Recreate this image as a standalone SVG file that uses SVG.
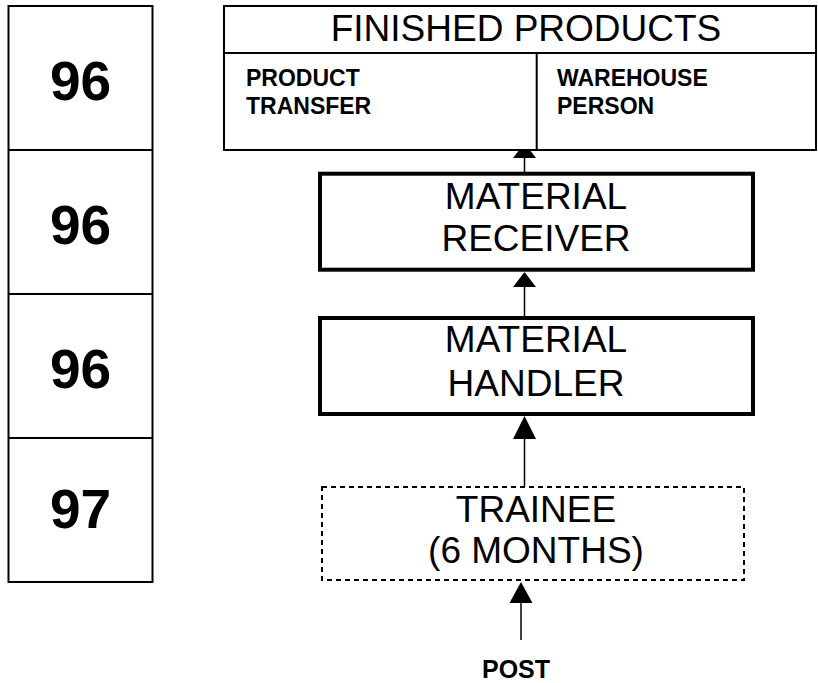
<svg xmlns="http://www.w3.org/2000/svg" width="818" height="683" viewBox="0 0 818 683">
<style>
.box{fill:#fff;stroke:#000;stroke-width:2}
.thick{fill:#fff;stroke:#000;stroke-width:4}
.dash{fill:#fff;stroke:#000;stroke-width:2;stroke-dasharray:5,4}
.ln{stroke:#000;stroke-width:1.5;fill:none}
.t{font-family:"Liberation Sans",Arial,sans-serif;fill:#000}
.big{font-size:37px;text-anchor:middle}
.num{font-size:55px;font-weight:bold;text-anchor:middle}
.sub{font-size:23px;font-weight:bold}
.post{font-size:25px;font-weight:bold;text-anchor:middle}
.ah{fill:#000}
</style>
<rect width="818" height="683" fill="#fff"/>
<g id="connectors">
<line class="ln" x1="524.5" y1="172" x2="524.5" y2="150"/>
<polygon class="ah" points="524.5,143 513,158 536,158"/>
<line class="ln" x1="524.5" y1="316" x2="524.5" y2="285"/>
<polygon class="ah" points="524.5,272 513,287 536,287"/>
<line class="ln" x1="524.5" y1="487" x2="524.5" y2="437"/>
<polygon class="ah" points="524.5,416 513,439 536,439"/>
<line class="ln" x1="521" y1="640" x2="521" y2="600"/>
<polygon class="ah" points="521,582 509.5,603 532.5,603"/>
</g>
<g id="years">
<rect class="box" x="8.5" y="6" width="144" height="576"/>
<line class="ln" style="stroke-width:2" x1="8.5" y1="150" x2="152.5" y2="150"/>
<line class="ln" style="stroke-width:2" x1="8.5" y1="294" x2="152.5" y2="294"/>
<line class="ln" style="stroke-width:2" x1="8.5" y1="438" x2="152.5" y2="438"/>
<text class="t num" x="80.5" y="100">96</text>
<text class="t num" x="80.5" y="244">96</text>
<text class="t num" x="80.5" y="388">96</text>
<text class="t num" x="80.5" y="528">97</text>
</g>
<g id="finished-products">
<rect class="box" x="224" y="6" width="592" height="144"/>
<line class="ln" style="stroke-width:2" x1="224" y1="53" x2="816" y2="53"/>
<line class="ln" style="stroke-width:2" x1="536.7" y1="53" x2="536.7" y2="150"/>
<text class="t big" x="526" y="41">FINISHED PRODUCTS</text>
<text class="t sub" x="246" y="86">PRODUCT</text>
<text class="t sub" x="246" y="114">TRANSFER</text>
<text class="t sub" x="557" y="86">WAREHOUSE</text>
<text class="t sub" x="557" y="114">PERSON</text>
</g>
<g id="material-receiver">
<rect class="thick" x="320" y="173.7" width="433" height="96"/>
<text class="t big" x="536" y="209">MATERIAL</text>
<text class="t big" x="536" y="251">RECEIVER</text>
</g>
<g id="material-handler">
<rect class="thick" x="320" y="318" width="433" height="96"/>
<text class="t big" x="536" y="352">MATERIAL</text>
<text class="t big" x="536" y="396">HANDLER</text>
</g>
<g id="trainee">
<rect class="dash" x="322" y="487" width="422" height="93"/>
<text class="t big" x="536" y="522">TRAINEE</text>
<text class="t big" x="536" y="563">(6 MONTHS)</text>
</g>
<g id="post">
<text class="t post" x="516" y="678">POST</text>
</g>
</svg>
